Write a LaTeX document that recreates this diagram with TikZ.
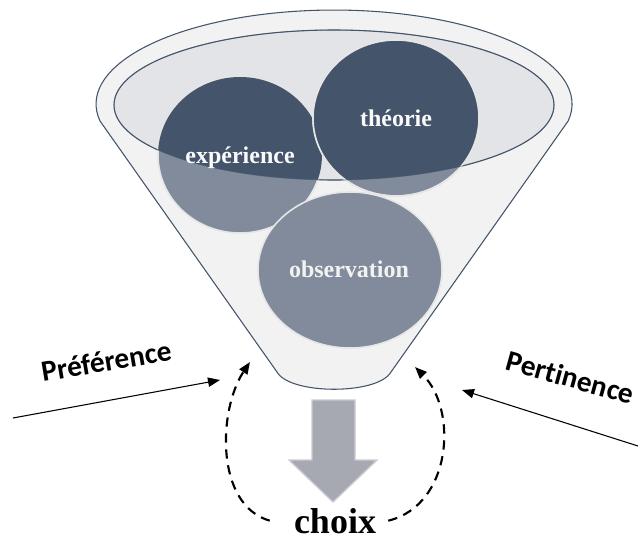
\documentclass[tikz,border=0pt]{standalone}
\usepackage{fontspec}
\setmainfont{Liberation Serif}
\newfontfamily\calib[Ligatures=NoCommon]{Carlito}
\usetikzlibrary{arrows.meta}
\definecolor{edgec}{HTML}{44546A}
\definecolor{funnelc}{HTML}{F2F2F2}
\definecolor{innerc}{HTML}{E3E4E7}
\definecolor{darkc}{HTML}{44546A}
\definecolor{lightc}{HTML}{828B9B}
\definecolor{arrowc}{HTML}{A6A9B1}
\definecolor{glowc}{HTML}{E6E6E6}
\tikzset{
  bubble/.style={fill=lightc, draw=glowc, line width=1.2pt},
  bubtext/.style={font=\bfseries\fontsize{18}{20}\selectfont, text=white!96!gray, anchor=base, inner sep=0pt},
  sidelabel/.style={font=\calib\bfseries\fontsize{22}{24}\selectfont, anchor=base, inner sep=0pt},
  solidarrow/.style={line width=0.8pt, -{Triangle[length=9pt, width=7pt]}},
  dasharrow/.style={line width=1.6pt, dash pattern=on 7pt off 5pt, -{Triangle[length=9pt, width=7pt]}},
}
\begin{document}
\begin{tikzpicture}[x=0.75pt, y=-0.75pt]
\useasboundingbox (0,0) rectangle (639,539);
% funnel body
\draw[edgec, fill=funnelc, line width=0.8pt]
  (100,121) arc[start angle=169.6, end angle=370.4, x radius=238, y radius=94]
  -- (391,372) .. controls (378,395) and (290,395) .. (277,372) -- cycle;
% inner ellipse
\draw[edgec, fill=innerc, line width=0.8pt] (334,105) ellipse[x radius=220, y radius=75];
% expérience
\path[bubble] (240,155) ellipse[x radius=82, y radius=78];
\begin{scope}
  \clip (334,105) ellipse[x radius=220, y radius=75];
  \fill[darkc] (240,155) ellipse[x radius=82, y radius=78];
\end{scope}
% théorie
\path[bubble] (396,118) ellipse[x radius=83, y radius=78];
\begin{scope}
  \clip (334,105) ellipse[x radius=220, y radius=75];
  \fill[darkc] (396,118) ellipse[x radius=83, y radius=78];
\end{scope}
\draw[glowc, line width=1.2pt] (396,118) ellipse[x radius=83, y radius=78];
% inner ellipse outline on top
\draw[edgec, line width=0.6pt, opacity=0.5] (334,105) ellipse[x radius=220, y radius=75];
% observation
\path[bubble] (350,270) ellipse[x radius=92, y radius=78];
% labels in bubbles
\node[bubtext] (exp) at (240,163) {expérience};
\node[bubtext] (theo) at (396,126) {théorie};
\node[bubtext, text=white!90!gray] (obs) at (349,277) {observation};
% down arrow
\draw[arrowc!60!white, fill=arrowc, line width=1pt]
  (312,400) -- (355,400) -- (355,460) -- (377,460) -- (333,502) -- (289,460) -- (312,460) -- cycle;
% choix
\node[font=\bfseries\fontsize{27}{29}\selectfont, anchor=base, inner ysep=0pt, inner xsep=15pt] (choix) at (335,533) {choix};
% side labels
\node[sidelabel, rotate=9.5] (pref) at (108,371) {Préférence};
\node[sidelabel, rotate=-15.4] (pert) at (568,387) {Pertinence};
% solid arrows
\coordinate (pstart) at (13,418);
\coordinate (pend) at (220,380);
\coordinate (qstart) at (638,446);
\coordinate (qend) at (462,390);
\draw[solidarrow] (pstart) -- (pend);
\draw[solidarrow] (qstart) -- (qend);
% dashed loops
\coordinate (lt) at (250,362);
\coordinate (rt) at (415,367);
\draw[dasharrow] ([xshift=-3pt,yshift=0pt]choix.west) .. controls (215,505) and (218,410) .. (lt);
\draw[dasharrow] ([xshift=-6pt,yshift=0pt]choix.east) .. controls (452,505) and (458,410) .. (rt);
\end{tikzpicture}
\end{document}
